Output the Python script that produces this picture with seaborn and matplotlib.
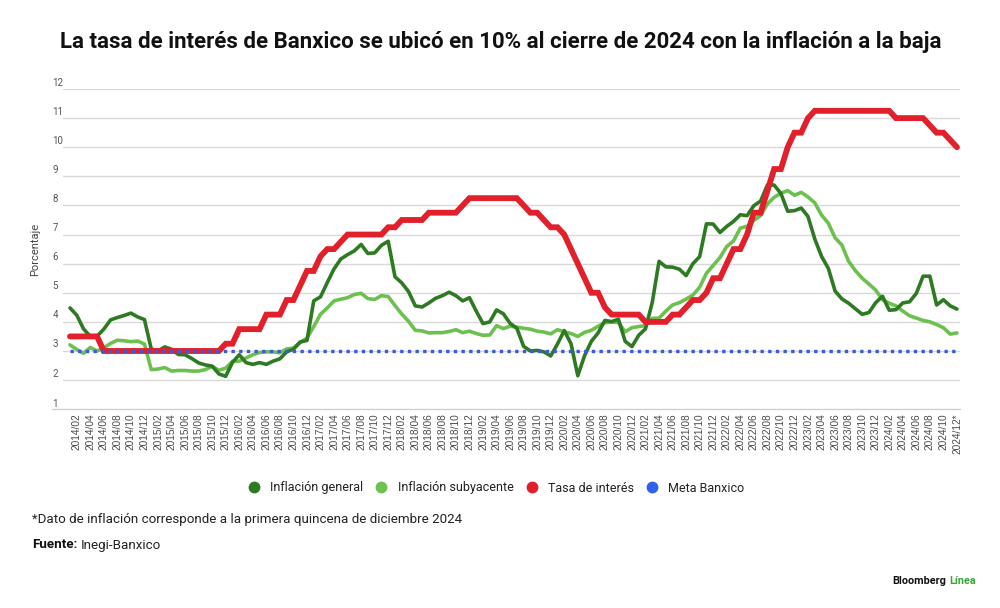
import matplotlib
matplotlib.use("Agg")
import matplotlib.pyplot as plt
import matplotlib.transforms as mtransforms
from matplotlib.lines import Line2D
import seaborn as sns
import pandas as pd
import numpy as np

# ---------------- data (monthly, 2014/01 .. 2024/12) ----------------
inflacion_general = [
    4.48, 4.23, 3.76, 3.50, 3.51, 3.75, 4.07, 4.15, 4.22, 4.30, 4.17, 4.08,
    3.07, 3.00, 3.14, 3.06, 2.88, 2.87, 2.74, 2.59, 2.52, 2.48, 2.21, 2.13,
    2.61, 2.87, 2.60, 2.54, 2.60, 2.54, 2.65, 2.73, 2.97, 3.06, 3.31, 3.36,
    4.72, 4.86, 5.35, 5.82, 6.16, 6.31, 6.44, 6.66, 6.35, 6.37, 6.63, 6.77,
    5.55, 5.34, 5.04, 4.55, 4.51, 4.65, 4.81, 4.90, 5.02, 4.90, 4.72, 4.83,
    4.37, 3.94, 4.00, 4.41, 4.28, 3.95, 3.78, 3.16, 3.00, 3.02, 2.97, 2.83,
    3.24, 3.70, 3.25, 2.15, 2.84, 3.33, 3.62, 4.05, 4.01, 4.09, 3.33, 3.15,
    3.54, 3.76, 4.67, 6.08, 5.89, 5.88, 5.81, 5.59, 6.00, 6.24, 7.37, 7.36,
    7.07, 7.28, 7.45, 7.68, 7.65, 7.99, 8.15, 8.70, 8.70, 8.41, 7.80, 7.82,
    7.91, 7.62, 6.85, 6.25, 5.84, 5.06, 4.79, 4.64, 4.45, 4.26, 4.32, 4.66,
    4.88, 4.40, 4.42, 4.65, 4.69, 4.98, 5.57, 5.57, 4.58, 4.76, 4.55, 4.44,
]
inflacion_subyacente = [
    3.21, 3.05, 2.92, 3.12, 3.00, 3.11, 3.26, 3.37, 3.35, 3.32, 3.34, 3.24,
    2.36, 2.38, 2.43, 2.31, 2.33, 2.33, 2.31, 2.31, 2.36, 2.47, 2.34, 2.41,
    2.64, 2.65, 2.76, 2.87, 2.95, 2.97, 2.97, 2.94, 3.07, 3.10, 3.29, 3.44,
    3.84, 4.26, 4.48, 4.72, 4.78, 4.83, 4.94, 4.98, 4.80, 4.77, 4.90, 4.87,
    4.56, 4.27, 4.02, 3.71, 3.69, 3.62, 3.63, 3.63, 3.67, 3.73, 3.63, 3.68,
    3.60, 3.54, 3.55, 3.87, 3.77, 3.85, 3.82, 3.78, 3.75, 3.68, 3.65, 3.59,
    3.73, 3.66, 3.60, 3.50, 3.64, 3.71, 3.85, 3.97, 3.99, 3.98, 3.66, 3.80,
    3.84, 3.87, 4.12, 4.13, 4.37, 4.58, 4.66, 4.78, 4.92, 5.19, 5.67, 5.94,
    6.21, 6.59, 6.78, 7.22, 7.28, 7.49, 7.65, 8.05, 8.28, 8.42, 8.51, 8.35,
    8.45, 8.29, 8.09, 7.67, 7.39, 6.89, 6.64, 6.08, 5.76, 5.50, 5.30, 5.09,
    4.76, 4.64, 4.55, 4.37, 4.21, 4.13, 4.05, 4.00, 3.91, 3.80, 3.58, 3.62,
]
tasa_interes = [
    3.50, 3.50, 3.50, 3.50, 3.50, 3.00, 3.00, 3.00, 3.00, 3.00, 3.00, 3.00,
    3.00, 3.00, 3.00, 3.00, 3.00, 3.00, 3.00, 3.00, 3.00, 3.00, 3.00, 3.25,
    3.25, 3.75, 3.75, 3.75, 3.75, 4.25, 4.25, 4.25, 4.75, 4.75, 5.25, 5.75,
    5.75, 6.25, 6.50, 6.50, 6.75, 7.00, 7.00, 7.00, 7.00, 7.00, 7.00, 7.25,
    7.25, 7.50, 7.50, 7.50, 7.50, 7.75, 7.75, 7.75, 7.75, 7.75, 8.00, 8.25,
    8.25, 8.25, 8.25, 8.25, 8.25, 8.25, 8.25, 8.00, 7.75, 7.75, 7.50, 7.25,
    7.25, 7.00, 6.50, 6.00, 5.50, 5.00, 5.00, 4.50, 4.25, 4.25, 4.25, 4.25,
    4.25, 4.00, 4.00, 4.00, 4.00, 4.25, 4.25, 4.50, 4.75, 4.75, 5.00, 5.50,
    5.50, 6.00, 6.50, 6.50, 7.00, 7.75, 7.75, 8.50, 9.25, 9.25, 10.00, 10.50,
    10.50, 11.00, 11.25, 11.25, 11.25, 11.25, 11.25, 11.25, 11.25, 11.25, 11.25, 11.25,
    11.25, 11.25, 11.00, 11.00, 11.00, 11.00, 11.00, 10.75, 10.50, 10.50, 10.25, 10.00,
]
meta_banxico = [3.0] * 132

years = [2014 + i // 12 for i in range(132)]
months = [i % 12 + 1 for i in range(132)]
fechas = [f"{y}/{m:02d}" for y, m in zip(years, months)]
tick_idx = list(range(1, 132, 2))
tick_labels = [fechas[i] for i in tick_idx]
tick_labels[-1] = tick_labels[-1] + "*"

series_names = ["Inflación general", "Inflación subyacente", "Tasa de interés", "Meta Banxico"]
colors = ["#2e7a22", "#6cc04f", "#e1202b", "#3a5ad6"]
legend_colors = ["#2e7a22", "#6cc04f", "#e1202b", "#2f62e8"]

df = pd.DataFrame({
    "idx": list(range(132)) * 4,
    "valor": inflacion_general + inflacion_subyacente + tasa_interes + meta_banxico,
    "serie": sum([[s] * 132 for s in series_names], []),
})

# ---------------- figure ----------------
sns.set_theme(style="white")
plt.rcParams["font.family"] = ["Roboto", "DejaVu Sans"]

W, H = 1000, 608
fig = plt.figure(figsize=(W / 100, H / 100), dpi=100)
fig.patch.set_facecolor("white")

ax_l, ax_r, ax_t, ax_b = 63, 960, 89, 409.2
ax = fig.add_axes([ax_l / W, 1 - ax_b / H, (ax_r - ax_l) / W, (ax_b - ax_t) / H])

styles = {
    "Inflación general": dict(lw=2.6, ls="-", z=3),
    "Inflación subyacente": dict(lw=2.6, ls="-", z=2),
    "Tasa de interés": dict(lw=4.2, ls="-", z=4),
    "Meta Banxico": dict(lw=2.4, ls=(0, (1.0, 1.3)), z=5),
}
for name, col in zip(series_names, colors):
    st = styles[name]
    sub = df[df["serie"] == name]
    sns.lineplot(data=sub, x="idx", y="valor", color=col, linewidth=st["lw"],
                 linestyle=st["ls"], ax=ax, zorder=st["z"], legend=False,
                 solid_joinstyle="miter" if name == "Tasa de interés" else "round",
                 dash_capstyle="butt")

ax.set_xlim(-1.03, 131.45)
ax.set_ylim(1, 12)
ax.set_yticks(range(2, 13))
ax.set_yticklabels([str(v) for v in range(2, 13)])
ax.grid(axis="y", color="#d8d8d8", linewidth=1.0)
ax.grid(axis="x", visible=False)
ax.set_axisbelow(True)
for s in ax.spines.values():
    s.set_visible(False)
# baseline at 1, extending left under its label
ax.axhline(1, xmin=(52 - ax_l) / (ax_r - ax_l), xmax=1, color="#d0d0d0", linewidth=1.0,
           clip_on=False, zorder=1)
ax.text((52.5 - ax_l) / (ax_r - ax_l), 1, "1", transform=ax.get_yaxis_transform(),
        ha="left", va="bottom", fontsize=7, color="#555555")

ax.set_xticks(tick_idx)
ax.set_xticklabels(tick_labels, rotation=90, fontsize=7.3, color="#4a4a4a",
                   family=["Liberation Sans", "DejaVu Sans"])
ax.tick_params(axis="x", length=0, pad=3)
ax.tick_params(axis="y", length=0, pad=10.5 * 72 / 100, labelsize=7, labelcolor="#555555")
for lab in ax.get_yticklabels():
    lab.set_horizontalalignment("left")
    lab.set_verticalalignment("bottom")
    lab.set_transform(lab.get_transform() + mtransforms.ScaledTranslation(0, 1.5 / 100, fig.dpi_scale_trans))

ax.set_xlabel("")
ax.set_ylabel("Porcentaje", fontsize=8, color="#444444")
ax.yaxis.set_label_coords((40 - ax_l) / (ax_r - ax_l), 0.5)

# title
fig.text(0.501, 1 - 42 / H, "La tasa de interés de Banxico se ubicó en 10% al cierre de 2024 con la inflación a la baja",
         ha="center", va="center", fontsize=16, fontweight="bold", color="#111111")

# legend
handles = [Line2D([0], [0], marker="o", linestyle="", markersize=7.5,
                  markerfacecolor=c, markeredgecolor=c) for c in legend_colors]
fig.legend(handles, series_names, loc="center", bbox_to_anchor=(496 / W, 1 - 488 / H),
           ncol=4, frameon=False, fontsize=9, handletextpad=0.8, columnspacing=0.95,
           handlelength=1.0, labelcolor="#222222")

# footnotes
fs_note = 9.6
fig.text(32 / W, 1 - 520 / H, "*Dato de inflación corresponde a la primera quincena de diciembre 2024",
         ha="left", va="center", fontsize=fs_note, color="#222222")
t1 = fig.text(32 / W, 1 - 545 / H, "Fuente:", ha="left", va="center", fontsize=fs_note,
              fontweight="bold", color="#111111")
fig.canvas.draw()
bb = t1.get_window_extent()
fig.text(bb.x1 / W + 3.5 / W, 1 - 545 / H, "Inegi-Banxico", ha="left", va="center",
         fontsize=fs_note, color="#222222")

# brand
t2 = fig.text(892 / W, 1 - 581 / H, "Bloomberg", ha="left", va="center", fontsize=7.8,
              fontweight="bold", color="#111111")
fig.canvas.draw()
bb2 = t2.get_window_extent()
fig.text(bb2.x1 / W + 3 / W, 1 - 581 / H, "Línea", ha="left", va="center", fontsize=7.8,
         fontweight="bold", color="#3aa33a")

fig.savefig("out.png", dpi=100, facecolor="white")
